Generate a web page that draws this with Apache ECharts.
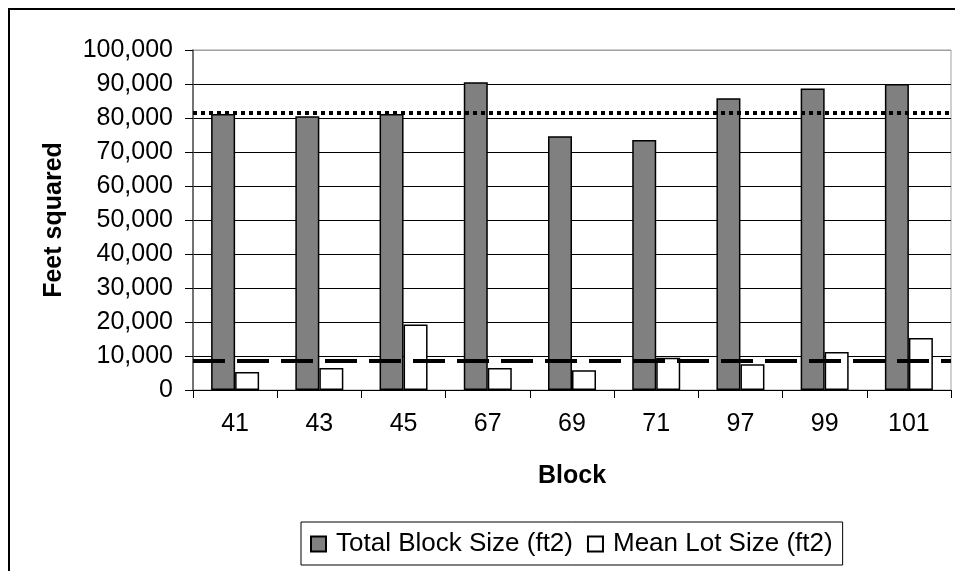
<!DOCTYPE html>
<html>
<head>
<meta charset="utf-8">
<script src="https://cdn.jsdelivr.net/npm/echarts@6/dist/echarts.min.js"></script>
<style>
html,body{margin:0;padding:0;background:#fff;}
#chart{width:955px;height:571px;}
</style>
</head>
<body>
<div id="chart"></div>
<script>
const categories = ['41', '43', '45', '67', '69', '71', '97', '99', '101'];
const totalBlockSize = [81200, 80500, 81200, 90500, 74600, 73500, 85800, 88700, 90000];
const meanLotSize = [5300, 6500, 19300, 6500, 5800, 9500, 7600, 11200, 15300];
const averageTotalBlock = 81500;
const averageMeanLot = 8500;
const yTicks = [0, 10000, 20000, 30000, 40000, 50000, 60000, 70000, 80000, 90000, 100000];

const FONT = '"Liberation Sans", Arial, sans-serif';
const fmt = v => String(v).replace(/\B(?=(\d{3})+(?!\d))/g, ',');

const chart = echarts.init(document.getElementById('chart'), null, {renderer: 'canvas'});
const gridColors = yTicks.map((t, i) => i === yTicks.length - 1 ? '#a0a0a0' : '#000');

chart.setOption({
  animation: false,
  backgroundColor: '#fff',
  textStyle: {fontFamily: FONT, color: '#000'},
  graphic: [{
    type: 'rect',
    shape: {x: 9, y: 9, width: 1000, height: 1000},
    style: {fill: 'none', stroke: '#000', lineWidth: 2},
    silent: true,
    z: 100
  }],
  grid: {
    left: 193, right: 4, top: 50, bottom: 181,
    show: true, borderColor: '#a0a0a0', borderWidth: 1, backgroundColor: '#fff'
  },
  legend: {
    left: 301, top: 522,
    orient: 'horizontal',
    padding: [9, 10, 8, 9],
    borderColor: '#000', borderWidth: 1,
    itemWidth: 15, itemHeight: 15, itemGap: 14,
    icon: 'rect',
    textStyle: {fontFamily: FONT, fontSize: 26, color: '#000', padding: [0, 0, 0, 5]},
    data: ['Total Block Size (ft2)', 'Mean Lot Size (ft2)']
  },
  xAxis: {
    type: 'category',
    data: categories,
    boundaryGap: true,
    name: 'Block',
    nameLocation: 'middle',
    nameGap: 74,
    nameTextStyle: {fontFamily: FONT, fontSize: 25, fontWeight: 'bold', color: '#000'},
    axisLine: {lineStyle: {color: '#000', width: 1}},
    axisTick: {show: true, length: 8, lineStyle: {color: '#000'}},
    axisLabel: {fontFamily: FONT, fontSize: 25, color: '#000', margin: 22},
    splitLine: {show: false}
  },
  yAxis: {
    type: 'value',
    min: 0, max: 100000, interval: 10000,
    name: 'Feet squared',
    nameLocation: 'middle',
    nameRotate: 90,
    nameGap: 126,
    nameTextStyle: {fontFamily: FONT, fontSize: 25, fontWeight: 'bold', color: '#000'},
    axisLine: {show: true, lineStyle: {color: '#555', width: 1.5}},
    axisTick: {show: true, length: 8, lineStyle: {color: '#000'}},
    axisLabel: {fontFamily: FONT, fontSize: 25, color: '#000', margin: 20, formatter: v => fmt(v)},
    splitLine: {show: true, lineStyle: {color: gridColors, width: 1}}
  },
  series: [
    {
      name: 'Total Block Size (ft2)',
      type: 'bar',
      data: totalBlockSize,
      barWidth: 24,
      barGap: '0%',
      itemStyle: {color: '#808080', borderColor: '#000', borderWidth: 1.5},
      markLine: {
        silent: true,
        symbol: 'none',
        label: {show: false},
        lineStyle: {color: '#000', width: 4, type: [4, 4]},
        data: [{yAxis: averageTotalBlock}]
      },
      z: 2
    },
    {
      name: 'Mean Lot Size (ft2)',
      type: 'bar',
      data: meanLotSize,
      barWidth: 24,
      barGap: '0%',
      itemStyle: {color: '#fff', borderColor: '#000', borderWidth: 1.5},
      markLine: {
        silent: true,
        symbol: 'none',
        label: {show: false},
        lineStyle: {color: '#000', width: 4, type: [32, 12]},
        data: [{yAxis: averageMeanLot}]
      },
      z: 2
    }
  ]
});
</script>
</body>
</html>
